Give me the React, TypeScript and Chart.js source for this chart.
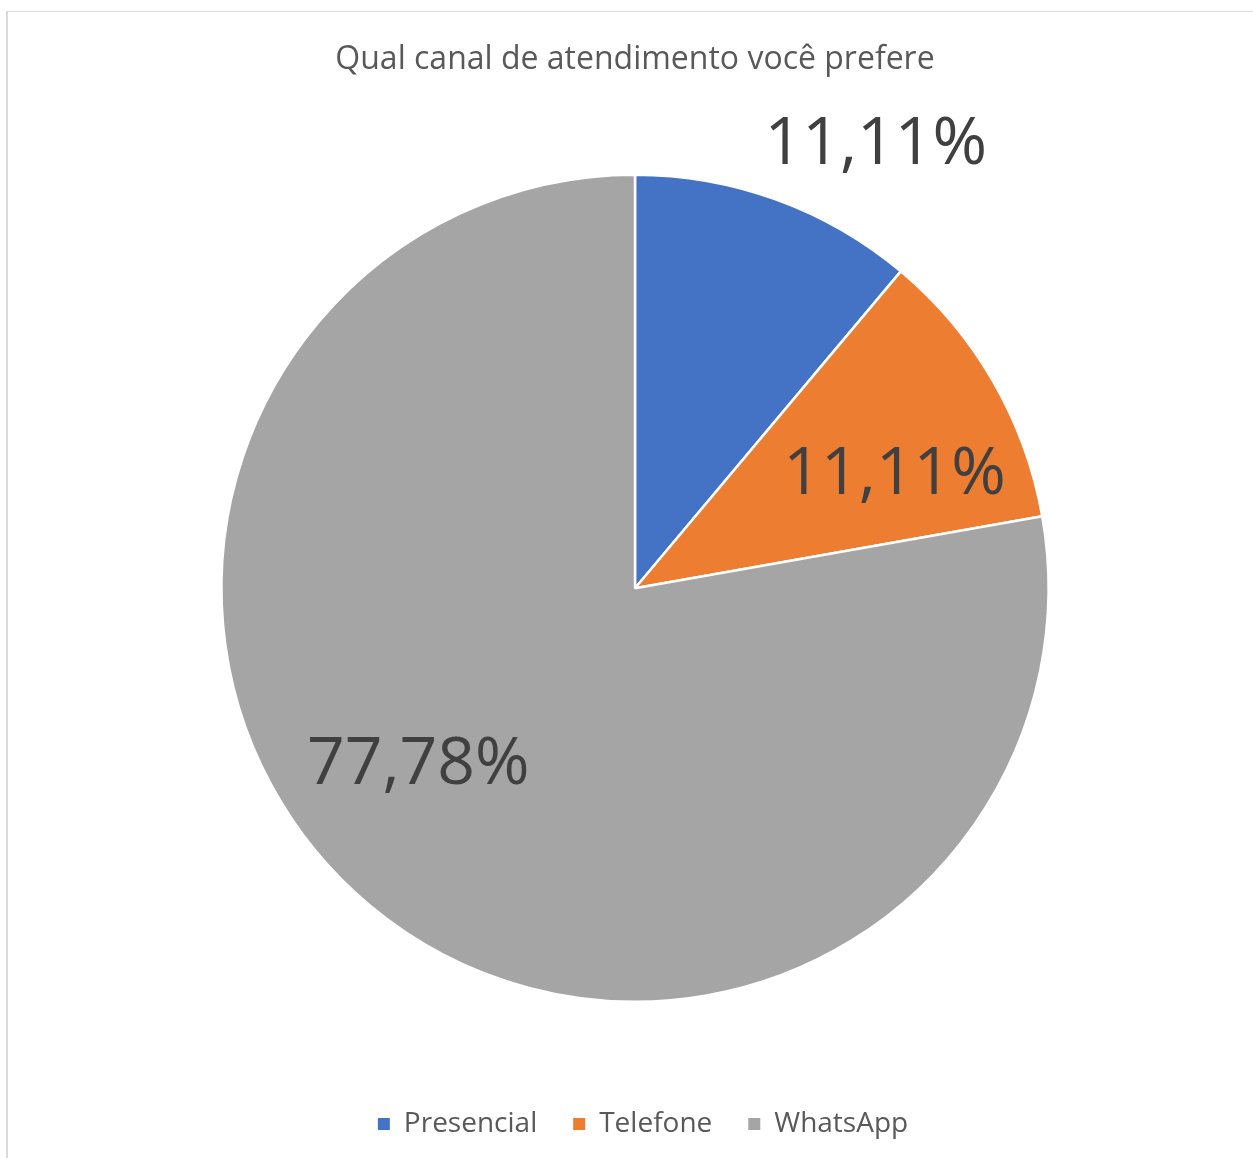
import React, { useEffect, useRef } from "react";
import { Chart, registerables } from "chart.js";

Chart.register(...registerables);

const categories = ["Presencial", "Telefone", "WhatsApp"];
const percentages = [11.11, 11.11, 77.78];
const chartTitle = "Qual canal de atendimento você prefere";

const sliceColors = ["#4472C4", "#ED7D31", "#A5A5A5"];
// label placement (text baseline centre): angle (deg, canvas coords) and distance as fraction of radius
const labelPlacement = [
  { angle: -60.43, dist: 1.18 },
  { angle: -19.98, dist: 0.668 },
  { angle: 137.93, dist: 0.706 },
];

const labelPlugin = {
  id: "pctLabels",
  afterLayout(chart: any) {
    if (chart.legend) chart.legend.left += 16;
  },
  afterDatasetsDraw(chart: any) {
    const meta = chart.getDatasetMeta(0);
    const ctx = chart.ctx;
    ctx.save();
    ctx.font = "66px 'Open Sans'";
    ctx.fillStyle = "#404040";
    ctx.textAlign = "center";
    ctx.textBaseline = "alphabetic";
    meta.data.forEach((arc: any, i: number) => {
      const p = labelPlacement[i];
      const a = (p.angle * Math.PI) / 180;
      const x = arc.x + Math.cos(a) * arc.outerRadius * p.dist;
      const y = arc.y + Math.sin(a) * arc.outerRadius * p.dist;
      const txt = percentages[i].toFixed(2).replace(".", ",") + "%";
      ctx.fillText(txt, x, y);
    });
    ctx.restore();
  },
};

export default function App() {
  const ref = useRef<HTMLCanvasElement | null>(null);
  useEffect(() => {
    if (!ref.current) return;
    const chart = new Chart(ref.current, {
      type: "pie",
      data: {
        labels: categories,
        datasets: [
          {
            data: percentages,
            backgroundColor: sliceColors,
            borderColor: "#ffffff",
            borderWidth: 2.5,
          },
        ],
      },
      options: {
        responsive: false,
        animation: false,
        devicePixelRatio: 1,
        layout: { padding: { left: 17, right: 0, top: 0, bottom: 10 } },
        plugins: {
          title: {
            display: true,
            text: chartTitle,
            color: "#595959",
            font: { family: "'Open Sans'", size: 32, weight: "normal" },
            padding: { top: 41, bottom: 94 },
          },
          legend: {
            position: "bottom",
            title: {
              display: true,
              text: "",
              font: { size: 10 },
              padding: { top: 59, bottom: 0 },
            },
            labels: {
              boxWidth: 12,
              boxHeight: 12,
              color: "#595959",
              font: { family: "'Open Sans'", size: 28 },
              padding: 36,
              generateLabels(chart: any) {
                const items = Chart.overrides.pie.plugins.legend.labels.generateLabels(chart);
                return items.map((it: any) => ({ ...it, lineWidth: 0, strokeStyle: it.fillStyle }));
              },
            },
          },
          tooltip: { enabled: false },
        },
      },
      plugins: [labelPlugin],
    });
    return () => chart.destroy();
  }, []);

  return (
    <div style={{ position: "fixed", left: 0, top: 0, width: 1253, height: 1158, overflow: "hidden", background: "#fff" }}>
      <div
        style={{
          position: "absolute",
          left: 6,
          top: 11,
          width: 1400,
          height: 1400,
          borderLeft: "2px solid #d9d9d9",
          borderTop: "1.5px solid #d9d9d9",
        }}
      />
      <canvas ref={ref} width={1253} height={1158} style={{ position: "absolute", left: 0, top: 0 }} />
    </div>
  );
}
